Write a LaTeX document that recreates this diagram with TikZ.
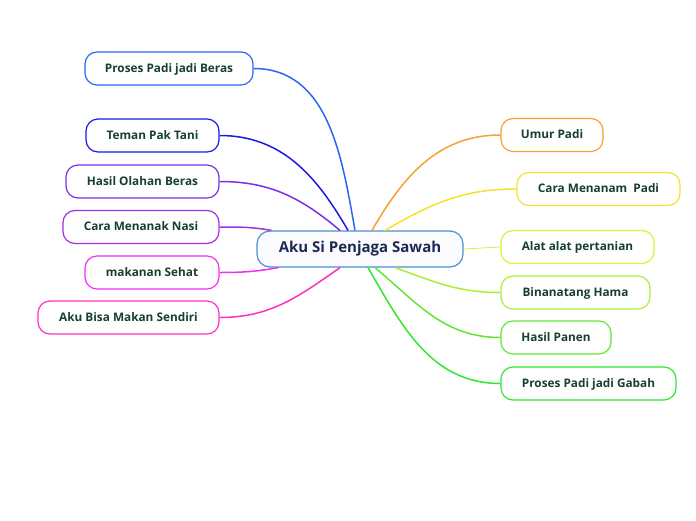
\documentclass[tikz,border=0pt]{standalone}
\usepackage{fontspec}
\setmainfont{Open Sans}
\usepackage{tikz}
\usetikzlibrary{positioning,calc}

\definecolor{txtgreen}{HTML}{17402F}
\definecolor{rootblue}{HTML}{4A90D0}
\definecolor{rootnavy}{HTML}{1A2A50}
\definecolor{cberas}{HTML}{2A66F2}
\definecolor{ctani}{HTML}{1A1AE0}
\definecolor{colahan}{HTML}{7A30E8}
\definecolor{cnasi}{HTML}{A030E8}
\definecolor{csehat}{HTML}{F030F0}
\definecolor{csendiri}{HTML}{FF30C0}
\definecolor{cumur}{HTML}{F8A030}
\definecolor{cmenanam}{HTML}{F8E030}
\definecolor{calat}{HTML}{E0F030}
\definecolor{chama}{HTML}{A8F030}
\definecolor{cpanen}{HTML}{60E830}
\definecolor{cgabah}{HTML}{30E830}

\begin{document}
\begin{tikzpicture}[
    x=1pt, y=-1pt,
    root/.style={draw=rootblue, line width=1.2pt, rounded corners=13pt,
                 fill=blue!2, minimum height=36pt, text=rootnavy,
                 font=\fontsize{15}{17}\selectfont\bfseries, inner sep=0pt},
    topic/.style={draw=#1, line width=1.2pt, rounded corners=12pt,
                  fill=white, minimum height=33pt, text=txtgreen,
                  text depth=1.5pt,
                  font=\fontsize{11.8}{13}\selectfont\bfseries, inner sep=0pt},
    branch/.style={draw=#1, line width=1.5pt}
]
  \useasboundingbox[fill=white] (0,0) rectangle (696,520);

  % central node
  \node[root, minimum width=206pt] (root) at (360,249) {Aku Si Penjaga Sawah};

  % left side
  \node[topic=cberas,   minimum width=168pt] (beras)   at (169,68.5)  {Proses Padi jadi Beras};
  \node[topic=ctani,    minimum width=133pt] (tani)    at (152.5,135.5) {Teman Pak Tani};
  \node[topic=colahan,  minimum width=153pt] (olahan)  at (142.5,181.5) {Hasil Olahan Beras};
  \node[topic=cnasi,    minimum width=156pt] (nasi)    at (141,227)   {Cara Menanak Nasi};
  \node[topic=csehat,   minimum width=134pt] (sehat)   at (152,272.5) {makanan Sehat};
  \node[topic=csendiri, minimum width=181pt] (sendiri) at (128.5,317.5) {Aku Bisa Makan Sendiri};

  % right side
  \node[topic=cumur,    minimum width=102pt] (umur)    at (552,135)   {Umur Padi};
  \node[topic=cmenanam, minimum width=163pt] (menanam) at (598.5,189) {Cara Menanam~ Padi};
  \node[topic=calat,    minimum width=153pt] (alat)    at (577.5,247) {Alat alat pertanian};
  \node[topic=chama,    minimum width=149pt] (hama)    at (575.5,292.5) {Binanatang Hama};
  \node[topic=cpanen,   minimum width=110pt] (panen)   at (556,337.5) {Hasil Panen};
  \node[topic=cgabah,   minimum width=175pt] (gabah)   at (588.5,383.5) {Proses Padi jadi Gabah};

  % branches
  \draw[branch=cberas]   ([xshift=-5pt]root.north)  to[out=100,in=0] (beras.east);
  \draw[branch=ctani]    ([xshift=-12pt]root.north) to[out=120,in=0] (tani.east);
  \draw[branch=colahan]  ([xshift=-20pt]root.north) to[out=140,in=0] (olahan.east);
  \draw[branch=cnasi]    ([xshift=15pt]root.north west) to[out=170,in=0] (nasi.east);
  \draw[branch=csehat]   ([xshift=22pt]root.south west) to[out=190,in=0] (sehat.east);
  \draw[branch=csendiri] ([xshift=-20pt]root.south) to[out=215,in=0] (sendiri.east);
  \draw[branch=cumur]    ([xshift=12pt]root.north)  to[out=60,in=180] (umur.west);
  \draw[branch=cmenanam] ([xshift=25pt]root.north)  to[out=30,in=180] (menanam.west);
  \draw[branch=calat, line width=0.8pt] (root.east) -- (alat.west);
  \draw[branch=chama]    ([xshift=35pt]root.south)  to[out=-20,in=180] (hama.west);
  \draw[branch=cpanen]   ([xshift=15pt]root.south)  to[out=-40,in=180] (panen.west);
  \draw[branch=cgabah]   ([xshift=8pt]root.south)   to[out=-60,in=180] (gabah.west);
\end{tikzpicture}
\end{document}
